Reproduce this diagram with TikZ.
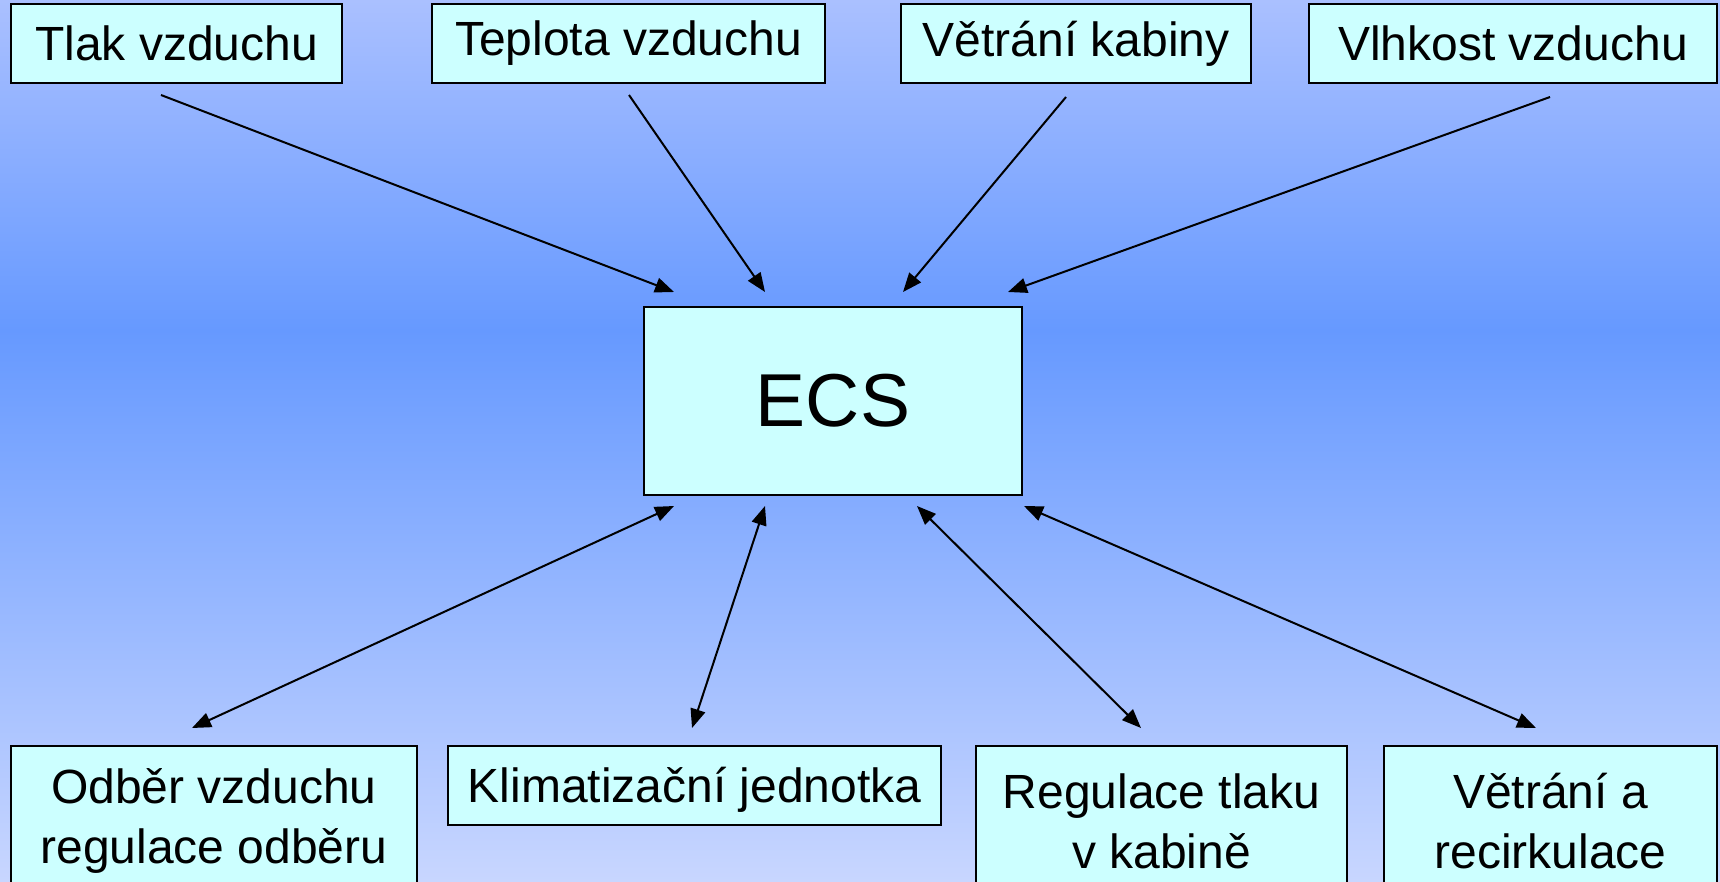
\documentclass[tikz,border=0pt]{standalone}
\usepackage{fontspec}
\setmainfont{Liberation Sans}
\usetikzlibrary{arrows.meta}
\definecolor{bgtop}{RGB}{170,192,255}
\definecolor{bgmid}{RGB}{102,153,255}
\definecolor{bgbot}{RGB}{200,214,255}
\definecolor{boxfill}{RGB}{204,255,255}
\begin{document}
\begin{tikzpicture}[x=1pt,y=-1pt,
  item/.style={draw=black, line width=2.2pt, fill=boxfill, inner sep=0pt,
    font=\fontsize{48}{60}\selectfont, align=center},
  link/.style={line width=2pt, -{Triangle[length=19pt,width=15pt]}},
  duplex/.style={line width=2pt, {Triangle[length=19pt,width=15pt]}-{Triangle[length=19pt,width=15pt]}}]
% page frame and background gradient
\useasboundingbox (0,0) rectangle (1720,881);
\clip (0,0) rectangle (1720,881);
\shade[top color=bgtop, bottom color=bgmid] (0,0) rectangle (1720,331);
\shade[top color=bgmid, bottom color=bgbot] (0,330) rectangle (1720,881);

% inputs
\node[item, minimum width=331pt, minimum height=79pt] (tlak) at (176.5,43.5) {Tlak vzduchu};
\node[item, minimum width=393pt, minimum height=79pt] (teplota) at (628.5,43.5) {Teplota vzduchu};
\node[item, minimum width=350pt, minimum height=79pt] (vetrani) at (1076,43.5) {Větrání kabiny};
\node[item, minimum width=408pt, minimum height=79pt] (vlhkost) at (1513,43.5) {Vlhkost vzduchu};

% central system
\node[item, minimum width=378pt, minimum height=188pt, font=\fontsize{75}{80}\selectfont] (ecs) at (833,401) {ECS};

% subsystems
\node[item, minimum width=406pt, minimum height=150pt] (odber) at (214,821) {Odběr vzduchu\\regulace odběru};
\node[item, minimum width=493pt, minimum height=79pt, text height=44pt, text depth=10pt] (klima) at (694.5,785.5) {Klimatizační jednotka};
\node[item, minimum width=371pt, minimum height=150pt] (regulace) at (1161.5,821) {Regulace tlaku\\v kabině};
\node[item, minimum width=333pt, minimum height=150pt] (recirk) at (1550.5,821) {Větrání a\\recirkulace};

% connector end points
\coordinate (tlakout) at (161,95);
\coordinate (teplotaout) at (629,95);
\coordinate (vetraniout) at (1066,97);
\coordinate (vlhkostout) at (1550,97);
\coordinate (ecsin1) at (674,292);
\coordinate (ecsin2) at (765,292);
\coordinate (ecsin3) at (903,292);
\coordinate (ecsin4) at (1008,292);
\coordinate (ecsout1) at (674,506);
\coordinate (ecsout2) at (765,506);
\coordinate (ecsout3) at (917,506);
\coordinate (ecsout4) at (1024,506);
\coordinate (odberin) at (192,728);
\coordinate (klimain) at (692,728);
\coordinate (regulacein) at (1141,728);
\coordinate (recirkin) at (1536,728);

\draw[link] (tlakout) -- (ecsin1);
\draw[link] (teplotaout) -- (ecsin2);
\draw[link] (vetraniout) -- (ecsin3);
\draw[link] (vlhkostout) -- (ecsin4);
\draw[duplex] (ecsout1) -- (odberin);
\draw[duplex] (ecsout2) -- (klimain);
\draw[duplex] (ecsout3) -- (regulacein);
\draw[duplex] (ecsout4) -- (recirkin);
\end{tikzpicture}
\end{document}
